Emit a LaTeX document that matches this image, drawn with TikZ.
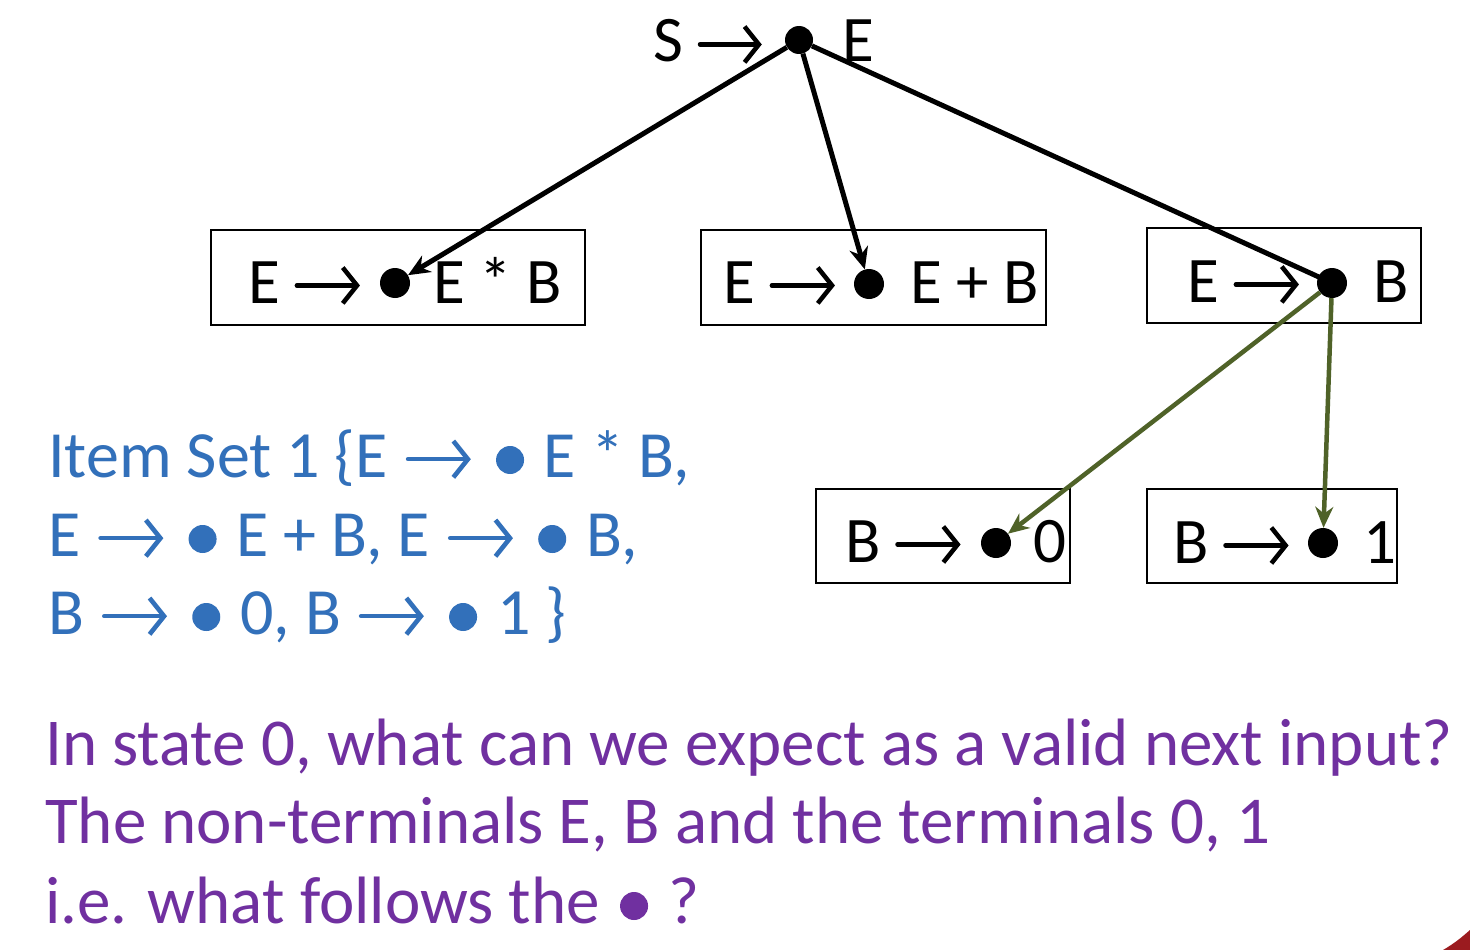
\documentclass[tikz,border=0pt]{standalone}
\usepackage{fontspec}
\setmainfont{Carlito}
\usetikzlibrary{arrows.meta}
\definecolor{itemblue}{RGB}{50,112,186}
\definecolor{qpurple}{RGB}{112,48,160}
\definecolor{edgegreen}{RGB}{79,98,40}
\definecolor{cornerred}{RGB}{155,27,31}
\newcommand{\arr}[1]{\tikz[baseline=0pt]\draw[line width=0.07em,line cap=round,-{Straight Barb[length=0.22em,width=0.55em,line width=0.07em]}] (0,0.27em) -- (#1,0.27em);}
\newcommand{\barr}{\hspace{3pt}\arr{0.95em}\hspace{3pt}}
\newcommand{\bul}{\hspace{5pt}\tikz[baseline=0pt]\fill (0pt,17pt) circle [radius=14pt];\hspace{5pt}}
\begin{document}
\begin{tikzpicture}[x=1pt,y=-1pt,
  txt/.style={font=\fontsize{65}{78}\selectfont, inner sep=0pt, anchor=base west},
  bigtxt/.style={font=\fontsize{66}{79}\selectfont, inner sep=0pt, anchor=base west},
  qtxt/.style={font=\fontsize{67}{80}\selectfont, inner sep=0pt, anchor=base west},
  prodbox/.style={draw=black, line width=1.5pt, rectangle, inner sep=0pt},
  dotnode/.style={circle, fill=black, inner sep=0pt, minimum size=30pt},
  blackedge/.style={draw=black, line width=5pt, -{Stealth[length=22pt,width=19pt]}},
  greenedge/.style={draw=edgegreen, line width=4.5pt, -{Stealth[length=21pt,width=18pt]}}]
\useasboundingbox (0,0) rectangle (1470,950);
\fill[white] (0,0) rectangle (1470,950);

% top item
\node[txt] (sleft) at (653,62) {S \arr{0.95em}};
\node[dotnode, minimum size=28pt] (top) at (799,40) {};
\node[txt] (sright) at (842,62) {E};

% boxes
\node[prodbox, minimum width=374pt, minimum height=95pt] (b1) at (398,277.5) {};
\node[prodbox, minimum width=345pt, minimum height=95pt] (b2) at (873.5,277.5) {};
\node[prodbox, minimum width=274pt, minimum height=95pt] (b3) at (1284,275.5) {};
\node[prodbox, minimum width=254pt, minimum height=94pt] (b4) at (943,536) {};
\node[prodbox, minimum width=250pt, minimum height=94pt] (b5) at (1272,536) {};

% box texts
\node[txt] (l1) at (248,303) {E \arr{0.97em}};
\node[txt] (r1) at (433,303) {E * B};
\node[txt] (l2) at (723,303) {E \arr{0.97em}};
\node[txt] (r2) at (910,303) {E + B};
\node[txt] (l3) at (1187,302) {E \arr{0.97em}};
\node[txt] (r3) at (1373,302) {B};
\node[txt] (l4) at (845,562) {B \arr{0.97em}};
\node[txt] (r4) at (1033,562) {0};
\node[txt] (l5) at (1173,563) {B \arr{0.97em}};
\node[txt] (r5) at (1363,563) {1};

% dots
\node[dotnode] (d1) at (395,283) {};
\node[dotnode] (d2) at (869,284) {};
\node[dotnode] (d3) at (1332,283) {};
\node[dotnode] (d4) at (996,543) {};
\node[dotnode] (d5) at (1323,543) {};

% connectors
\draw[blackedge] (top) -- (d1);
\draw[blackedge] (top) -- (d2);
\draw[draw=black, line width=5pt] (top) -- (d3.center);
\draw[greenedge] (d3) -- (d4);
\draw[greenedge] (d3) -- (d5);

% item set text
\node[bigtxt, text=itemblue] (is1) at (48,477) {Item Set 1 \{E \barr{} \bul{} E * B,};
\node[bigtxt, text=itemblue] (is2) at (48,556) {E \barr{} \bul{} E + B, E \barr{} \bul{} B,};
\node[bigtxt, text=itemblue] (is3) at (48,634) {B \barr{} \bul{} 0, B \barr{} \bul{} 1 \}};

% question text
\node[qtxt, text=qpurple] (q1) at (45,765) {In state 0, what can we expect as a valid next input?};
\node[qtxt, text=qpurple] (q2) at (45,843) {The non-terminals E, B and the terminals 0, 1};
\node[qtxt, text=qpurple] (q3) at (45,923) {i.e. what follows the \bul{} ?};

% corner decoration
\fill[cornerred] (1443,950) .. controls (1455,943) and (1462,937) .. (1470,930) -- (1470,950) -- cycle;
\end{tikzpicture}
\end{document}
